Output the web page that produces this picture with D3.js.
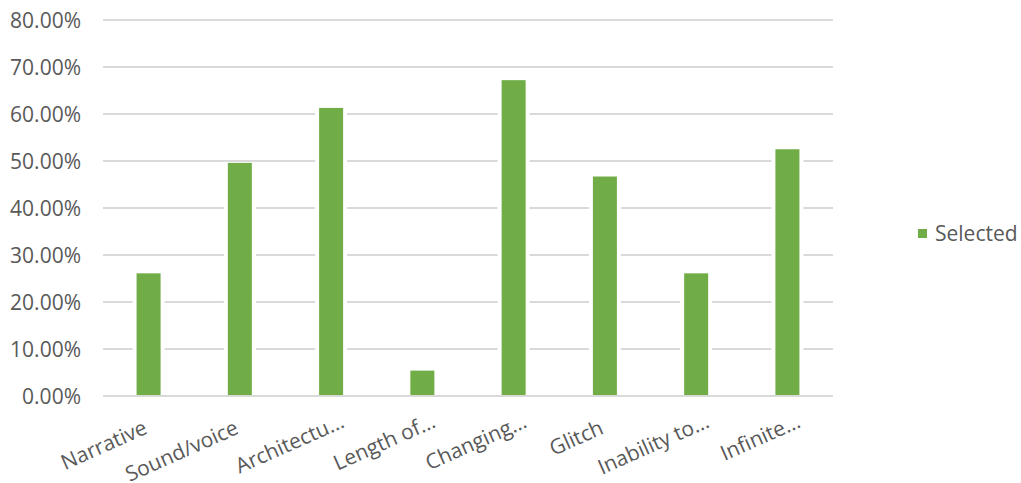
<!DOCTYPE html>
<html><head><meta charset="utf-8">
<script src="https://cdn.jsdelivr.net/npm/d3@7"></script>
<style>body{margin:0;background:#fff}svg{display:block}text{font-family:"Open Sans",sans-serif;fill:#595959}</style>
</head><body>
<svg id="c" width="1021" height="483"></svg>
<script>
const categories = ["Narrative","Sound/voice","Architectu…","Length of…","Changing…","Glitch","Inability to…","Infinite…"];
const values = [0.261, 0.496, 0.613, 0.054, 0.672, 0.467, 0.261, 0.525];
const yTicks = [0,0.1,0.2,0.3,0.4,0.5,0.6,0.7,0.8];
const seriesName = "Selected";

const svg = d3.select("#c");
const pLeft = 103, pRight = 833, pTop = 20, pBottom = 396;
const x = d3.scaleBand().domain(categories).range([pLeft,pRight]).paddingInner(0.737).paddingOuter(0.368);
const y = d3.scaleLinear().domain([0,0.8]).range([pBottom,pTop]);
const color = "#70AD47";

// gridlines
svg.append("g").selectAll("line").data(yTicks.filter(d=>d>0)).join("line")
  .attr("x1",pLeft).attr("x2",pRight).attr("y1",d=>y(d)).attr("y2",d=>y(d))
  .attr("stroke","#d9d9d9").attr("stroke-width",2);

// y labels
const yAxis = d3.axisLeft(y).tickValues(yTicks).tickFormat(d=>(d*100).toFixed(2)+"%").tickSize(0).tickPadding(22);
const gy = svg.append("g").attr("transform",`translate(${pLeft},0)`).call(yAxis);
gy.select(".domain").remove();
gy.selectAll("text").attr("font-size",21).style("font-family","'Open Sans',sans-serif").attr("fill","#595959").attr("dy","0.35em");

// bar white halos
svg.append("g").selectAll("rect").data(values).join("rect")
  .attr("x",(d,i)=>x(categories[i])-4).attr("width",x.bandwidth()+8)
  .attr("y",d=>y(d)-1).attr("height",d=>pBottom-y(d)+1).attr("fill","#fff");
// bars
svg.append("g").selectAll("rect").data(values).join("rect")
  .attr("x",(d,i)=>x(categories[i])).attr("width",x.bandwidth())
  .attr("y",d=>y(d)).attr("height",d=>pBottom-y(d)).attr("fill",color);

// x axis baseline
svg.append("line").attr("x1",pLeft).attr("x2",pRight).attr("y1",y(0)).attr("y2",y(0))
  .attr("stroke","#d9d9d9").attr("stroke-width",2);

// x labels
const xAxis = d3.axisBottom(x).tickSize(0).tickPadding(0);
const gx = svg.append("g").attr("transform",`translate(0,${pBottom})`).call(xAxis);
gx.select(".domain").remove();
gx.selectAll("text").attr("font-size",21).style("font-family","'Open Sans',sans-serif").attr("fill","#595959")
  .attr("text-anchor","end").attr("dy",null).attr("y",null)
  .attr("x",d=>d.endsWith("…")?16:0)
  .attr("transform","translate(0,37) rotate(-24)");

// legend
const lg = svg.append("g").attr("transform","translate(918,229)");
lg.append("rect").attr("width",9).attr("height",9).attr("fill",color);
lg.append("text").attr("x",17).attr("y",4.5).attr("dy","0.35em").attr("font-size",21).text(seriesName);
</script>
</body></html>
